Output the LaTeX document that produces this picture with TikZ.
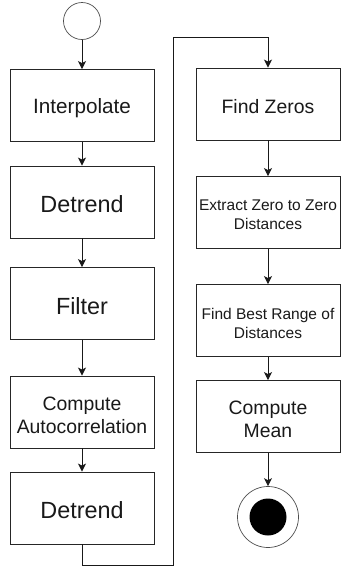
\documentclass[tikz,border=0pt]{standalone}
\usepackage{fontspec}
\setmainfont{Liberation Sans}
\usetikzlibrary{arrows.meta}
\begin{document}
\begin{tikzpicture}[x=1pt,y=-1pt,
  stepbox/.style={draw=black!85,line width=0.9pt,minimum width=144pt,minimum height=72pt,inner sep=0pt},
  lbl/.style={inner sep=0pt,align=center,text=black!90},
  fbig/.style={font=\fontsize{23.4}{28}\selectfont},
  fmid/.style={font=\fontsize{19.4}{23}\selectfont},
  fsmall/.style={font=\fontsize{15.5}{19}\selectfont},
  arr/.style={draw=black!90,line width=0.9pt,-{Stealth[length=8pt,width=8pt,inset=2pt]}}]
\useasboundingbox (0,0) rectangle (341,571);
\node[circle,draw=black!70,line width=0.7pt,minimum size=37pt,inner sep=0pt] (start) at (82,21) {};
\node[stepbox] (interp) at (82,105.5) {};
\node[stepbox] (det1) at (82,202) {};
\node[stepbox] (filt) at (82,303.5) {};
\node[stepbox] (auto) at (82,412) {};
\node[stepbox] (det2) at (82,508) {};
\node[stepbox] (fz) at (268,104) {};
\node[stepbox] (ext) at (268,212.5) {};
\node[stepbox] (fbr) at (268,320.5) {};
\node[stepbox] (cm) at (268,416.5) {};
\node[lbl,font=\fontsize{20.7}{25}\selectfont] (interp-t) at ([yshift=-3pt]interp.center) {Interpolate};
\node[lbl,fbig] (det1-t) at ([yshift=-2.5pt]det1.center) {Detrend};
\node[lbl,fbig] (filt-t) at ([yshift=-2.5pt]filt.center) {Filter};
\node[lbl,fmid] (auto-t) at ([yshift=-3pt]auto.center) {Compute\\Autocorrelation};
\node[lbl,fbig] (det2-t) at ([yshift=-2.5pt]det2.center) {Detrend};
\node[lbl,fmid] (fz-t) at ([yshift=-3pt]fz.center) {Find Zeros};
\node[lbl,fsmall] (ext-t) at ([yshift=-2.5pt]ext.center) {Extract Zero to Zero\\Distances};
\node[lbl,fsmall] (fbr-t) at ([yshift=-2.5pt]fbr.center) {Find Best Range of\\Distances};
\node[lbl,fmid] (cm-t) at ([yshift=-3pt]cm.center) {Compute\\Mean};
\node[circle,draw=black!70,line width=0.7pt,minimum size=61pt,inner sep=0pt] (end) at (268,517) {};
\node[circle,fill=black,minimum size=37pt,inner sep=0pt] (endin) at (end.center) {};
\coordinate (c1) at (173,565);
\coordinate (c2) at (173,37);
\draw[arr] (start) -- (interp);
\draw[arr] (interp) -- (det1);
\draw[arr] (det1) -- (filt);
\draw[arr] (filt) -- (auto);
\draw[arr] (auto) -- (det2);
\draw[arr] (det2.south) |- (c1) -- (c2) -| (fz.north);
\draw[arr] (fz) -- (ext);
\draw[arr] (ext) -- (fbr);
\draw[arr] (fbr) -- (cm);
\draw[arr] (cm) -- (end);
\end{tikzpicture}
\end{document}
